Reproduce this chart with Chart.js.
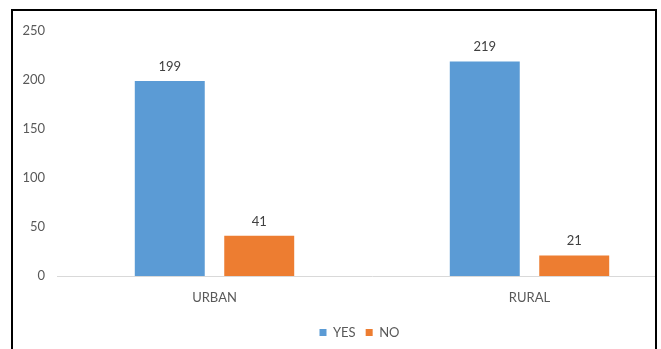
<!DOCTYPE html>
<html>
<head>
<meta charset="utf-8">
<script src="https://cdn.jsdelivr.net/npm/chart.js@4.4.1/dist/chart.umd.min.js"></script>
<style>
    html, body { margin: 0; padding: 0; background: #fff; }
    #wrap { position: absolute; left: 0; top: 0; width: 655px; height: 349px; overflow: hidden; }
    #frame {
        position: absolute; left: 11px; top: 9px; width: 642px; height: 400px;
        border: 2px solid #000; border-bottom: none; pointer-events: none;
    }
</style>
</head>
<body>
<div id="wrap">
    <div style="width:700px;height:349px;position:relative;">
        <canvas id="chart"></canvas>
    </div>
</div>
<div id="frame"></div>
<script>
const categories = ['URBAN', 'RURAL'];
const yesValues = [199, 219];
const noValues = [41, 21];
const yTicks = [0, 50, 100, 150, 200, 250];

const textGray = '#595959';
const font = { family: 'Lato', size: 13 };

// draws the value above each bar
const valueLabels = {
    id: 'valueLabels',
    afterDatasetsDraw(chart) {
        const ctx = chart.ctx;
        ctx.save();
        ctx.font = '13px Lato';
        ctx.fillStyle = '#404040';
        ctx.textAlign = 'center';
        ctx.textBaseline = 'bottom';
        chart.data.datasets.forEach((ds, i) => {
            chart.getDatasetMeta(i).data.forEach((bar, j) => {
                ctx.fillText(ds.data[j], bar.x, bar.y - 8);
            });
        });
        ctx.restore();
    }
};

// legend sits a bit right of the canvas centre in the original
const shiftLegend = {
    id: 'shiftLegend',
    afterLayout(chart) {
        if (chart.legend) {
            chart.legend.left += 16;
            chart.legend.right += 16;
        }
    }
};

new Chart(document.getElementById('chart'), {
    type: 'bar',
    data: {
        labels: categories,
        datasets: [
            { label: 'YES', data: yesValues, backgroundColor: '#5B9BD5' },
            { label: 'NO', data: noValues, backgroundColor: '#ED7D31' }
        ]
    },
    options: {
        responsive: true,
        maintainAspectRatio: false,
        animation: false,
        layout: { padding: { left: 0, right: 13, top: 31, bottom: 0 } },
        datasets: { bar: { categoryPercentage: 0.568, barPercentage: 0.782 } },
        plugins: {
            tooltip: { enabled: false },
            legend: {
                position: 'bottom',
                labels: { font: font, color: textGray, boxWidth: 7, boxHeight: 7, padding: 10 }
            }
        },
        scales: {
            x: {
                grid: { display: false },
                border: { color: '#d9d9d9', width: 1 },
                ticks: { font: font, color: textGray, padding: 6 },
                afterFit: scale => { scale.height = 40; }
            },
            y: {
                min: 0,
                max: 250,
                afterBuildTicks: scale => { scale.ticks = yTicks.map(v => ({ value: v })); },
                grid: { display: false },
                border: { display: false },
                ticks: { font: font, color: textGray, padding: 4 },
                afterFit: scale => { scale.width = 57; }
            }
        }
    },
    plugins: [valueLabels, shiftLegend]
});
</script>
</body>
</html>
